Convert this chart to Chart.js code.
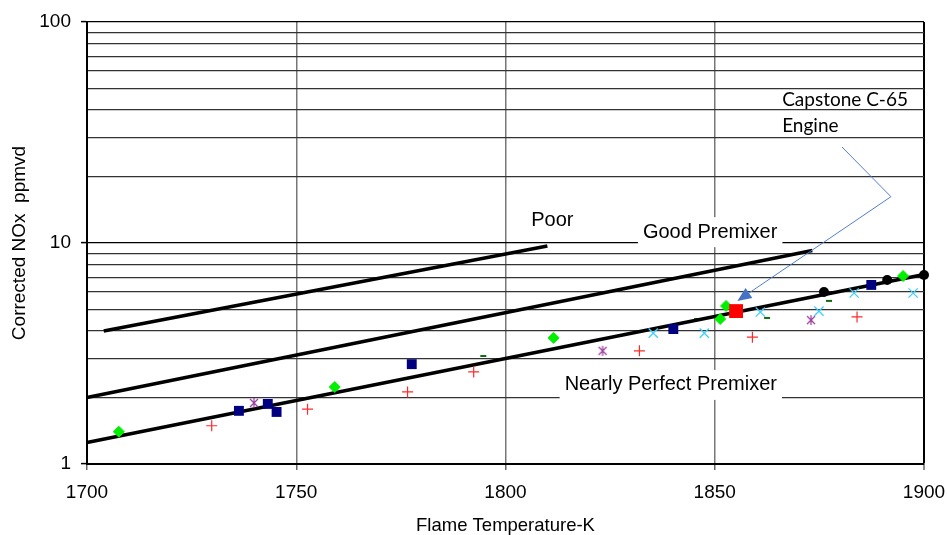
<!DOCTYPE html>
<html>
<head>
<meta charset="utf-8">
<script src="https://cdn.jsdelivr.net/npm/chart.js@4.4.1/dist/chart.umd.min.js"></script>
<style>
  html, body { margin: 0; padding: 0; background: #fff; }
  #wrap { width: 947px; height: 535px; }
</style>
</head>
<body>
<div id="wrap"><canvas id="c" width="947" height="535"></canvas></div>
<script>
// ---- Measured NOx vs flame temperature, grouped by test series ----
const seriesGreenT    = [1707.6, 1759.2, 1811.5, 1851.3, 1852.7, 1895.0];
const seriesGreenNOx  = [1.40, 2.23, 3.72, 4.53, 5.19, 7.09];

const seriesNavyT     = [1736.3, 1743.2, 1745.3, 1777.6, 1840.1, 1887.4];
const seriesNavyNOx   = [1.74, 1.87, 1.72, 2.83, 4.08, 6.46];

const seriesPlusT     = [1729.8, 1752.7, 1776.6, 1792.4, 1832.0, 1859.0, 1884.0];
const seriesPlusNOx   = [1.49, 1.77, 2.12, 2.61, 3.25, 3.75, 4.63];

const seriesStarT     = [1739.9, 1823.2, 1873.0];
const seriesStarNOx   = [1.89, 3.25, 4.48];

const seriesCrossT    = [1835.3, 1847.5, 1860.9, 1874.9, 1883.3, 1897.4];
const seriesCrossNOx  = [3.91, 3.91, 4.87, 4.92, 5.94, 5.94];

const seriesDashT     = [1794.7, 1845.8, 1862.5, 1877.3];
const seriesDashNOx   = [3.08, 4.53, 4.58, 5.47];

const seriesDotT      = [1876.1, 1891.2, 1900.0];
const seriesDotNOx    = [6.00, 6.80, 7.17];

const capstoneT       = [1855.1];
const capstoneNOx     = [4.92];

// ---- Premixer quality reference lines (end points) ----
const poorT           = [1704.0, 1810.0];
const poorNOx         = [4.0, 9.7];
const goodT           = [1700.0, 1873.3];
const goodNOx         = [2.0, 9.25];
const perfectT        = [1700.0, 1900.0];
const perfectNOx      = [1.25, 7.2];

// ---- Axis ticks ----
const tempTicks  = [1700, 1750, 1800, 1850, 1900];
const noxGrid    = [1, 2, 3, 4, 5, 6, 7, 8, 9, 10, 20, 30, 40, 50, 60, 70, 80, 90, 100];
const noxLabeled = [1, 10, 100];

// ---- Region labels and the engine callout ----
const regionText  = ['Poor', 'Good Premixer', 'Nearly Perfect Premixer'];
const regionT     = [1811.2, 1848.9, 1839.5];
const regionNOx   = [12.7, 11.2, 2.28];
const regionBoxed = [false, true, true];

const calloutText = ['Capstone C-65', 'Engine'];
const calloutT    = [1866.1, 1866.1];
const calloutNOx  = [44.4, 33.8];
const leaderT     = [1880.4, 1892.1, 1855.4];
const leaderNOx   = [27.2, 16.2, 5.47];

const pts = (xs, ys) => xs.map((x, i) => ({ x, y: ys[i] }));

// Asterisk marker: an X with a vertical stroke
function asteriskMarker(color) {
  const c = document.createElement('canvas');
  c.width = 12; c.height = 12;
  const g = c.getContext('2d');
  g.strokeStyle = color; g.lineWidth = 1.2;
  g.beginPath();
  g.moveTo(2, 2); g.lineTo(10, 10);
  g.moveTo(10, 2); g.lineTo(2, 10);
  g.moveTo(6, 1); g.lineTo(6, 11);
  g.stroke();
  return c;
}

const FONT = 'Liberation Sans, Arial, sans-serif';
Chart.defaults.font.family = FONT;
Chart.defaults.color = '#000';

const notesPlugin = {
  id: 'notes',
  beforeDatasetsDraw(chart) {
    const { ctx, scales: { x, y } } = chart;
    ctx.save();
    ctx.font = '20px ' + FONT;
    ctx.textAlign = 'center';
    ctx.textBaseline = 'middle';
    regionText.forEach((t, i) => {
      const px = x.getPixelForValue(regionT[i]);
      const py = y.getPixelForValue(regionNOx[i]);
      if (regionBoxed[i]) {
        const w = ctx.measureText(t).width + 10;
        ctx.fillStyle = '#fff';
        ctx.fillRect(px - w / 2, py - 15, w, 30);
      }
      ctx.fillStyle = '#000';
      ctx.fillText(t, px, py);
    });
    ctx.font = '19px Lato, "Open Sans", sans-serif';
    ctx.textAlign = 'left';
    calloutText.forEach((t, i) => {
      ctx.fillStyle = '#000';
      ctx.fillText(t, x.getPixelForValue(calloutT[i]), y.getPixelForValue(calloutNOx[i]));
    });
    ctx.restore();
  },
  afterDatasetsDraw(chart) {
    const { ctx, scales: { x, y } } = chart;
    const p = leaderT.map((t, i) => [x.getPixelForValue(t), y.getPixelForValue(leaderNOx[i])]);
    ctx.save();
    ctx.strokeStyle = '#4f7fd0';
    ctx.fillStyle = '#4472c4';
    ctx.lineWidth = 1;
    // leader line, stopping at the arrow head
    const [tx, ty] = p[p.length - 1];
    const [sx, sy] = p[p.length - 2];
    const len = Math.hypot(tx - sx, ty - sy);
    const ux = (tx - sx) / len, uy = (ty - sy) / len;
    const head = 14, half = 6;
    ctx.beginPath();
    ctx.moveTo(p[0][0], p[0][1]);
    for (let i = 1; i < p.length - 1; i++) ctx.lineTo(p[i][0], p[i][1]);
    ctx.lineTo(tx - ux * head, ty - uy * head);
    ctx.stroke();
    ctx.beginPath();
    ctx.moveTo(tx, ty);
    ctx.lineTo(tx - ux * head - uy * half, ty - uy * head + ux * half);
    ctx.lineTo(tx - ux * head + uy * half, ty - uy * head - ux * half);
    ctx.closePath();
    ctx.fill();
    ctx.restore();
  }
};

const lineSet = (xs, ys) => ({
  data: pts(xs, ys), showLine: true, borderColor: '#000', borderWidth: 3.5,
  pointRadius: 0, order: 10, clip: false
});

// fixed axis boxes so the plot area sits at a set place on the canvas
const noOverflow = s => { s.paddingLeft = 0; s.paddingRight = 0; s.paddingTop = 0; s.paddingBottom = 0; };

new Chart(document.getElementById('c'), {
  type: 'scatter',
  data: {
    datasets: [
      lineSet(poorT, poorNOx),
      lineSet(goodT, goodNOx),
      lineSet(perfectT, perfectNOx),
      { data: pts(seriesDashT, seriesDashNOx), pointStyle: 'line', pointRadius: 3,
        borderColor: '#0b6e0b', borderWidth: 2, order: 11, clip: false },
      { data: pts(seriesGreenT, seriesGreenNOx), pointStyle: 'rectRot', pointRadius: 5.5,
        backgroundColor: '#00f000', borderColor: '#00f000', borderWidth: 1, order: 5, clip: false },
      { data: pts(seriesNavyT, seriesNavyNOx), pointStyle: 'rect', pointRadius: 7,
        backgroundColor: '#000080', borderColor: '#000080', borderWidth: 0, order: 5, clip: false },
      { data: pts(seriesPlusT, seriesPlusNOx), pointStyle: 'cross', pointRadius: 5.5,
        borderColor: '#ff2a2a', borderWidth: 1.2, order: 5, clip: false },
      { data: pts(seriesStarT, seriesStarNOx), pointStyle: asteriskMarker('#9c3c9c'), pointRadius: 6,
        order: 5, clip: false },
      { data: pts(seriesCrossT, seriesCrossNOx), pointStyle: 'crossRot', pointRadius: 6.5,
        borderColor: '#3fd0ff', borderWidth: 1.3, order: 5, clip: false },
      { data: pts(seriesDotT, seriesDotNOx), pointStyle: 'circle', pointRadius: 5,
        backgroundColor: '#000', borderColor: '#000', borderWidth: 0, order: 4, clip: false },
      { data: pts(capstoneT, capstoneNOx), pointStyle: 'rect', pointRadius: 9.8,
        backgroundColor: '#ff0000', borderColor: '#ff0000', borderWidth: 0, order: 0, clip: false }
    ]
  },
  options: {
    responsive: false,
    animation: false,
    devicePixelRatio: 1,
    layout: { padding: { top: 22, right: 23, left: 0, bottom: 0 } },
    plugins: { legend: { display: false }, tooltip: { enabled: false } },
    scales: {
      x: {
        type: 'linear', min: 1700, max: 1900,
        afterFit(s) { s.height = 71; noOverflow(s); },
        afterBuildTicks(s) { s.ticks = tempTicks.map(v => ({ value: v })); },
        ticks: { font: { size: 19 }, color: '#000', padding: 11, maxRotation: 0, autoSkip: false,
                 callback: v => String(v) },
        grid: {
          color: c => (c.tick && c.tick.value === 1900) ? '#000' : '#777',
          lineWidth: c => (c.tick && c.tick.value === 1900) ? 2 : 1.5,
          tickLength: 6, tickColor: '#666', tickWidth: 1.5
        },
        border: { color: '#000', width: 2 },
        title: { display: true, text: 'Flame Temperature-K', color: '#000',
                 font: { size: 18.5, lineHeight: 1 }, padding: { top: 0, bottom: 0 } }
      },
      y: {
        type: 'logarithmic', min: 1, max: 100,
        afterFit(s) { s.width = 87; noOverflow(s); },
        afterBuildTicks(s) { s.ticks = noxGrid.map(v => ({ value: v, major: noxLabeled.includes(v) })); },
        ticks: { font: { size: 19 }, color: '#000', padding: 10, autoSkip: false,
                 callback: v => noxLabeled.includes(v) ? String(v) : '' },
        grid: {
          color: c => (c.tick && noxLabeled.includes(c.tick.value)) ? '#000' : '#333',
          lineWidth: 1.2,
          tickLength: 6,
          tickColor: c => (c.tick && noxLabeled.includes(c.tick.value)) ? '#000' : 'rgba(0,0,0,0)',
          tickWidth: 1.5
        },
        border: { color: '#000', width: 2 },
        title: { display: true, text: 'Corrected NOx  ppmvd', color: '#000',
                 font: { size: 19, lineHeight: 1 }, padding: { top: 10, bottom: 0 } }
      }
    }
  },
  plugins: [notesPlugin]
});
</script>
</body>
</html>
